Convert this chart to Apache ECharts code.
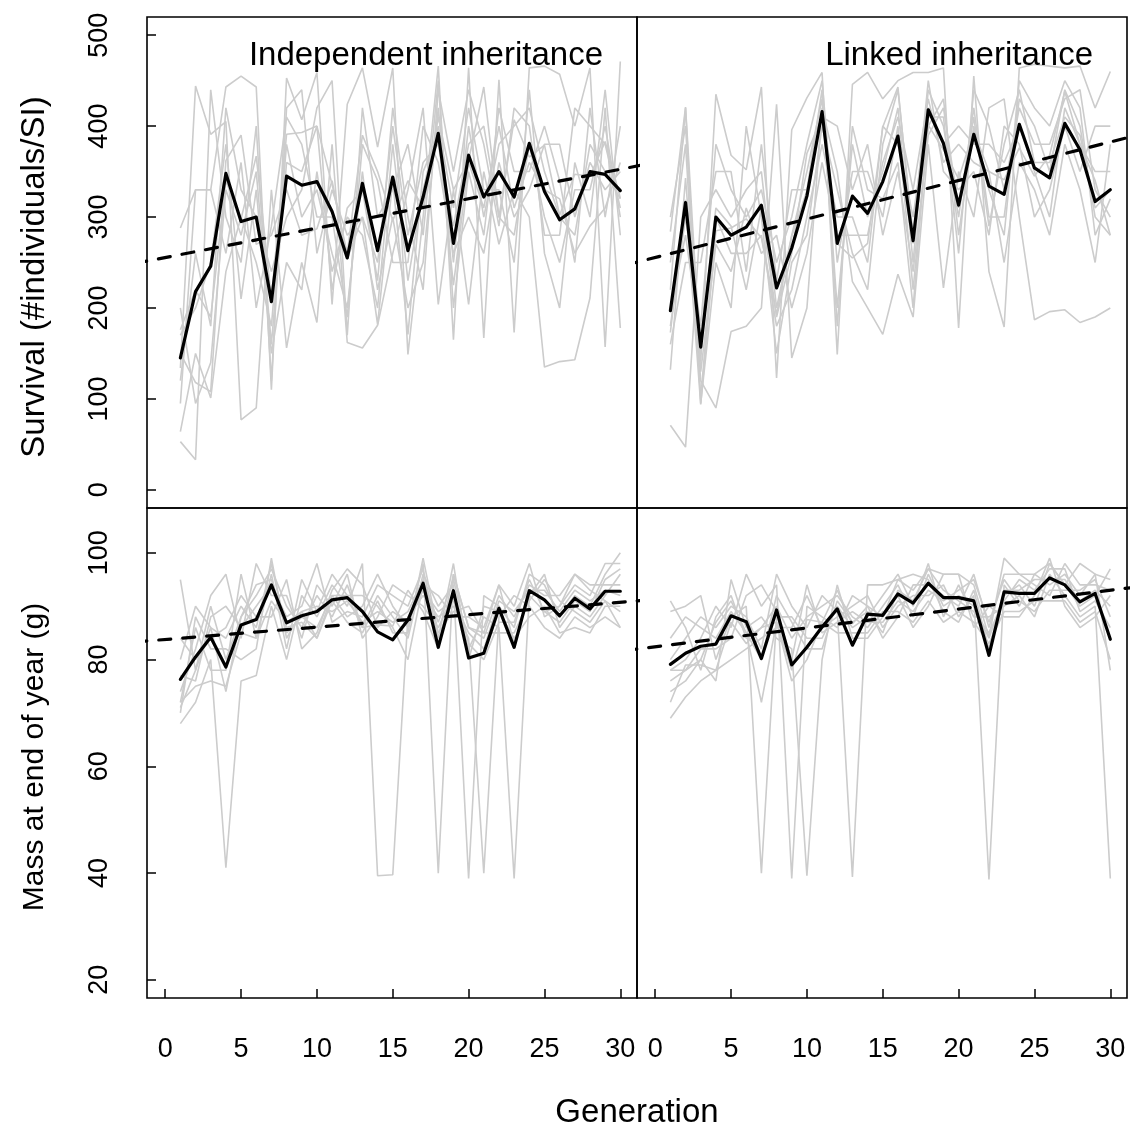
<!DOCTYPE html>
<html><head><meta charset="utf-8">
<script src="https://cdn.jsdelivr.net/npm/echarts@6/dist/echarts.min.js"></script>
<style>html,body{margin:0;padding:0;background:#fff}#c{width:1130px;height:1129px}</style>
</head><body><div id="c"></div>
<script>
// ---------- data ----------
const generations = [1,2,3,4,5,6,7,8,9,10,11,12,13,14,15,16,17,18,19,20,21,22,23,24,25,26,27,28,29,30];
const xTicks = [0,5,10,15,20,25,30];
const survivalTicks = [0,100,200,300,400,500];
const massTicks = [20,40,60,80,100];
const panelTitles = ['Independent inheritance', 'Linked inheritance'];

const indepSurvivalMean = [145,218,246,348,295,300,207,345,335,339,306,255,337,263,344,263,322,392,271,368,322,350,322,381,328,297,309,350,347,329];
const linkedSurvivalMean = [197,316,157,300,280,289,313,222,266,323,416,271,323,304,339,389,274,418,381,313,391,334,325,402,354,343,403,374,317,330];
const indepMassMean = [76.3,80.5,84.2,78.6,86.5,87.5,94.0,86.9,88.2,89.0,91.2,91.6,89.0,85.2,83.7,87.4,94.3,82.3,92.9,80.3,81.2,89.6,82.3,92.9,91.2,88.2,91.5,89.5,92.8,92.8];
const linkedMassMean = [79.1,81.2,82.5,82.9,88.2,87.1,80.2,89.3,79.0,82.3,86.1,89.5,82.7,88.5,88.3,92.3,90.6,94.3,91.6,91.6,91.0,80.8,92.7,92.4,92.4,95.3,94.0,90.8,92.4,83.8];

// regression lines, read at generation -2 and 32 (clipped to the panel)
const trendX = [-2, 32];
const indepSurvivalTrend = [249, 359];
const linkedSurvivalTrend = [247, 391];
const indepMassTrend = [83.3, 91.2];
const linkedMassTrend = [81.7, 93.7];

// replicate runs: one row per generation, ten replicate values per row
const indepSurvivalReps = [
[288,134,64,53,120,170,95,200,150,176],
[330,444,150,33,260,200,330,95,118,220],
[330,391,101,440,180,250,330,140,108,190],
[443,405,240,300,420,380,260,330,362,340],
[455,77,300,250,330,210,360,280,390,298],
[443,90,250,400,300,330,200,350,270,367],
[110,330,180,120,240,150,290,160,280,210],
[453,156,380,420,300,250,410,360,330,391],
[407,250,300,440,330,220,380,350,280,393],
[459,184,330,260,420,350,300,400,287,400],
[204,380,260,330,450,240,300,220,340,336],
[424,162,200,280,170,300,190,310,254,260],
[464,156,350,300,420,280,380,330,300,390],
[377,181,220,250,300,200,340,230,182,350],
[464,260,300,400,330,380,250,420,340,296],
[149,330,200,280,380,230,250,300,171,340],
[300,420,250,360,280,330,400,220,350,310],
[466,204,420,380,450,400,360,440,390,410],
[165,330,250,290,200,310,260,350,225,330],
[464,204,400,380,350,420,300,440,360,362],
[167,350,300,400,280,330,260,380,310,443],
[451,270,380,300,420,330,360,290,400,300],
[173,330,400,280,350,250,300,420,310,407],
[464,300,420,380,350,440,330,400,360,366],
[466,135,350,300,400,260,380,280,330,379],
[457,141,300,250,340,200,380,280,320,302],
[400,143,280,330,250,360,300,420,260,347],
[464,211,380,330,420,300,360,400,290,345],
[157,420,350,400,300,440,330,380,310,383],
[471,178,320,300,400,280,350,310,360,321]
];
const linkedSurvivalReps = [
[284,132,71,250,180,220,160,300,200,173],
[421,343,47,380,300,420,250,400,280,319],
[141,120,300,100,180,95,250,130,160,94],
[435,90,330,300,380,250,350,270,310,285],
[368,174,300,260,330,200,350,240,290,288],
[352,180,330,260,300,400,240,310,220,298],
[443,200,350,280,330,300,380,260,310,277],
[123,424,200,180,250,150,230,280,190,193],
[396,145,280,220,300,250,330,200,260,279],
[431,200,350,300,380,280,330,260,370,329],
[459,420,430,380,450,400,440,360,410,411],
[149,350,200,300,250,330,180,280,400,271],
[446,229,380,300,350,260,400,280,330,255],
[459,200,300,250,350,220,330,280,380,271],
[430,171,350,400,300,380,320,360,280,399],
[450,237,420,380,400,440,360,410,350,443],
[459,190,250,300,220,280,200,330,240,271],
[459,380,440,420,400,450,410,430,390,401],
[464,222,400,380,430,350,410,360,420,374],
[178,350,300,400,280,330,260,380,310,342],
[455,300,420,380,400,350,440,360,410,395],
[240,420,300,380,330,280,400,350,290,350],
[179,430,300,360,280,400,330,250,380,341],
[464,300,430,400,450,380,420,360,440,376],
[468,187,400,350,420,300,380,330,360,345],
[466,196,350,300,400,330,380,280,360,368],
[464,198,440,420,450,400,430,380,410,438],
[466,184,400,380,420,350,440,330,390,380],
[420,190,300,350,280,400,330,250,310,340],
[460,200,280,350,320,400,300,380,330,280]
];
const indepMassReps = [
[95,68,80,74,72,77,84,70,71,72],
[78,72,90,82,86,76,80,88,78,75],
[90,80,86,92,78,88,84,82,86,76],
[80,41,84,96,78,90,86,82,74,75],
[88,76,90,84,96,86,92,80,88,85],
[92,77,86,98,84,90,88,82,94,84],
[97,90,98,92,96,94,88,99,95,91],
[90,80,85,92,82,88,95,84,86,87],
[86,92,88,84,95,90,82,89,87,89],
[92,88,86,94,89,98,85,90,84,84],
[88,94,92,90,96,87,93,89,91,92],
[94,90,88,96,92,89,97,91,87,92],
[86,98,90,84,92,88,94,87,85,86],
[92,39.5,96,88,90,94,86,89,91,86.5],
[88,39.7,90,94,86,92,89,87,85,86.3],
[84,88,86,92,80,90,87,89,85,93],
[96,92,98,90,94,97,93,95,99,89],
[90,88,40,86,92,84,89,87,85,82],
[94,90,96,92,88,98,91,95,89,96],
[39,84,86,82,88,80,85,83,90,86],
[92,40,84,88,86,90,82,80,85,85],
[90,88,92,86,94,89,91,87,85,94],
[86,92,88,39,90,84,89,87,85,83],
[96,90,94,92,98,88,93,95,91,92],
[94,86,92,96,88,90,93,89,95,89],
[88,84,92,86,90,85,89,87,91,90],
[92,88,96,90,94,86,93,91,89,96],
[90,86,94,88,92,85,91,89,87,93],
[96,88,94,92,98,90,93,95,91,91],
[100,86,94,96,98,90,92,97,89,86]
];
const linkedMassReps = [
[91,69,89,78,74,80,76,84,72,78],
[86,73,90,80,76,84,78,88,79,78],
[78,76,92,84,80,88,82,86,79,80],
[88,78,80,90,76,86,82,84,78,87],
[92,80,88,86,95,90,84,89,87,91],
[84,82,90,96,86,88,92,85,83,85],
[86,84,40,90,88,82,94,80,86,72],
[90,86,88,94,84,96,89,92,87,87],
[84,86,88,39,82,90,80,87,76,78],
[88,92,84,90,39.5,86,94,82,80,87.5],
[90,86,84,88,80,92,85,82,87,87],
[92,88,90,86,94,89,87,91,85,93],
[88,90,86,92,84,39.3,89,87,85,86.7],
[86,92,88,90,84,94,87,89,85,90],
[90,86,92,84,88,94,87,85,89,88],
[94,90,96,88,92,95,91,93,89,95],
[88,92,90,94,86,96,89,91,87,93],
[96,92,98,94,90,95,93,97,91,97],
[90,94,88,92,96,89,91,93,87,96],
[92,88,94,90,96,87,93,91,89,96],
[90,92,88,96,86,93,95,89,87,94],
[84,38.8,88,86,90,82,87,85,83,84.2],
[92,94,90,96,88,93,95,91,89,99],
[94,90,92,96,88,93,91,95,89,96],
[90,96,88,94,92,95,89,93,91,96],
[98,94,96,92,99,95,93,97,91,98],
[94,96,92,98,90,95,93,97,91,94],
[90,92,88,94,86,91,93,89,87,98],
[92,96,90,94,88,93,95,91,89,96],
[97,95,39,93,92,90,88,86,80,78]
];

// ---------- chart ----------
const FONT = '"Liberation Sans", Arial, Helvetica, sans-serif';
const chart = echarts.init(document.getElementById('c'), null, {renderer: 'canvas'});

const panels = [
  {reps: indepSurvivalReps, mean: indepSurvivalMean, trend: indepSurvivalTrend},
  {reps: linkedSurvivalReps, mean: linkedSurvivalMean, trend: linkedSurvivalTrend},
  {reps: indepMassReps, mean: indepMassMean, trend: indepMassTrend},
  {reps: linkedMassReps, mean: linkedMassMean, trend: linkedMassTrend}
];

const grids = [
  {left: 147, top: 17, width: 490, height: 491},
  {left: 637, top: 17, width: 490, height: 491},
  {left: 147, top: 508, width: 490, height: 490},
  {left: 637, top: 508, width: 490, height: 490}
].map(g => Object.assign(g, {show: true, borderColor: '#000', borderWidth: 1.6, backgroundColor: 'transparent', containLabel: false}));

const xAxes = [0,1,2,3].map(i => ({
  type: 'value', gridIndex: i, min: -1.2, max: 31.1,
  show: i >= 2, position: 'bottom',
  axisLine: {show: false, onZero: false},
  splitLine: {show: false},
  axisTick: {show: true, inside: true, length: 9, customValues: xTicks, lineStyle: {color: '#000', width: 1.5}},
  axisLabel: {show: true, customValues: xTicks, color: '#000', fontSize: 27, fontFamily: FONT, margin: 38}
}));

const yAxes = [0,1,2,3].map(i => {
  const top = i < 2;
  const ticks = top ? survivalTicks : massTicks;
  return {
    type: 'value', gridIndex: i, position: 'left',
    min: top ? -20 : 16.6, max: top ? 520 : 108.4,
    show: i % 2 === 0,
    axisLine: {show: false, onZero: false},
    splitLine: {show: false},
    axisTick: {show: true, inside: true, length: 9, customValues: ticks, lineStyle: {color: '#000', width: 1.5}},
    axisLabel: {show: true, customValues: ticks, rotate: 90, color: '#000', fontSize: 27, fontFamily: FONT, margin: 34}
  };
});

const series = [];
panels.forEach((p, pi) => {
  for (let r = 0; r < 10; r++) {
    series.push({
      type: 'line', xAxisIndex: pi, yAxisIndex: pi, silent: true, symbol: 'none',
      lineStyle: {color: '#CCCCCC', width: 1.6},
      data: generations.map((g, k) => [g, p.reps[k][r]]), z: 2
    });
  }
  series.push({
    type: 'line', xAxisIndex: pi, yAxisIndex: pi, silent: true, symbol: 'none',
    lineStyle: {color: '#000', width: 3.2, join: 'round', cap: 'round'},
    data: generations.map((g, k) => [g, p.mean[k]]), z: 3
  });
  series.push({
    type: 'line', xAxisIndex: pi, yAxisIndex: pi, silent: true, symbol: 'none', clip: true,
    lineStyle: {color: '#000', width: 3.2, type: [12, 12], cap: 'round'},
    data: trendX.map((x, k) => [x, p.trend[k]]), z: 4
  });
});

const textStyle = (t, size, extra) => Object.assign({text: t, fill: '#000', font: size + 'px ' + FONT, align: 'center', verticalAlign: 'middle', textAlign: 'center', textVerticalAlign: 'middle'}, extra || {});

chart.setOption({
  animation: false,
  backgroundColor: '#fff',
  grid: grids,
  xAxis: xAxes,
  yAxis: yAxes,
  series: series,
  graphic: [
    {type: 'text', x: 603, y: 56, z: 10, style: textStyle(panelTitles[0], 33, {align: 'right', textAlign: 'right'})},
    {type: 'text', x: 1093, y: 56, z: 10, style: textStyle(panelTitles[1], 33, {align: 'right', textAlign: 'right'})},
    {type: 'text', x: 35, y: 277, rotation: Math.PI / 2, z: 10, style: textStyle('Survival (#individuals/SI)', 33)},
    {type: 'text', x: 35, y: 757, rotation: Math.PI / 2, z: 10, style: textStyle('Mass at end of year (g)', 30)},
    {type: 'text', x: 637, y: 1113, z: 10, style: textStyle('Generation', 33)}
  ]
});
</script></body></html>
